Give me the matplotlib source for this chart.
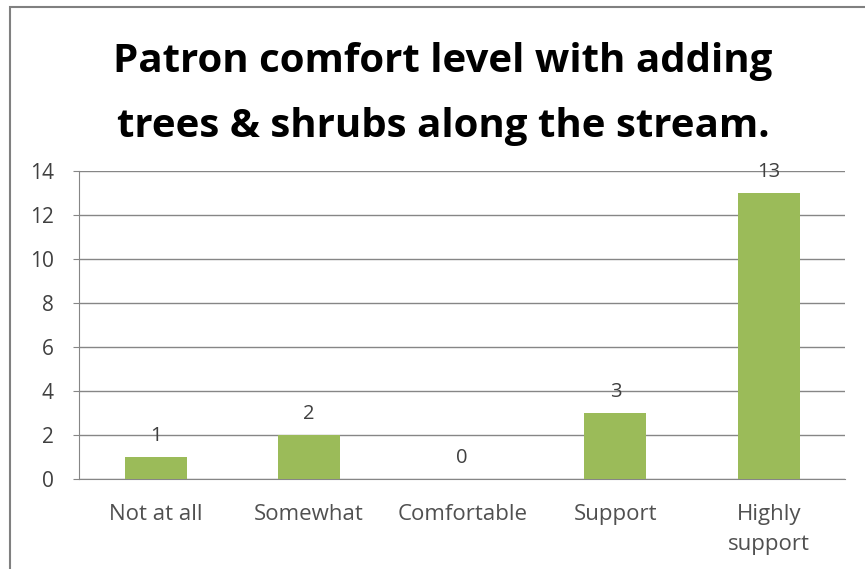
import matplotlib.pyplot as plt
from matplotlib.patches import Rectangle

categories = ['Not at all', 'Somewhat', 'Comfortable', 'Support', 'Highly\nsupport']
counts = [1, 2, 0, 3, 13]
y_ticks = [0, 2, 4, 6, 8, 10, 12, 14]
title = 'Patron comfort level with adding\ntrees & shrubs along the stream.'

plt.rcParams['font.family'] = ['Open Sans', 'DejaVu Sans']

fig = plt.figure(figsize=(8.65, 5.69), dpi=100)
ax = fig.add_axes([0.0913, 0.158, 0.886, 0.541])

x = list(range(len(categories)))
ax.bar(x, counts, width=0.405, color='#9bbb59', zorder=3)

# value labels above each bar
for xi, v in zip(x, counts):
    ax.annotate(str(v), (xi, v), xytext=(0, 8), textcoords='offset points',
                ha='center', va='bottom', fontsize=14.5, color='#404040')

ax.set_xlim(-0.5, len(categories) - 0.5)
ax.set_ylim(0, 14)
ax.set_yticks(y_ticks)
ax.set_xticks(x)
ax.set_xticklabels(categories, fontsize=16, color='#505050', linespacing=1.55)
ax.tick_params(axis='y', labelsize=15, labelcolor='#404040', length=4, color='#868686', pad=14)
ax.tick_params(axis='x', length=0, pad=18)
ax.yaxis.grid(True, color='#868686', linewidth=1, zorder=0)
for side in ['top', 'right']:
    ax.spines[side].set_visible(False)
ax.spines['left'].set_color('#868686')
ax.spines['bottom'].set_color('#868686')

fig.text(0.512, 0.835, title, ha='center', va='center', fontsize=29,
         fontweight='bold', color='black', linespacing=1.85)

# chart border (right and bottom edges fall outside the image)
fig.patches.append(Rectangle((0.0116, -0.05), 1.1, 1.0377, transform=fig.transFigure,
                             fill=False, edgecolor='#808080', linewidth=1.5))

fig.savefig('out.png', dpi=100)
